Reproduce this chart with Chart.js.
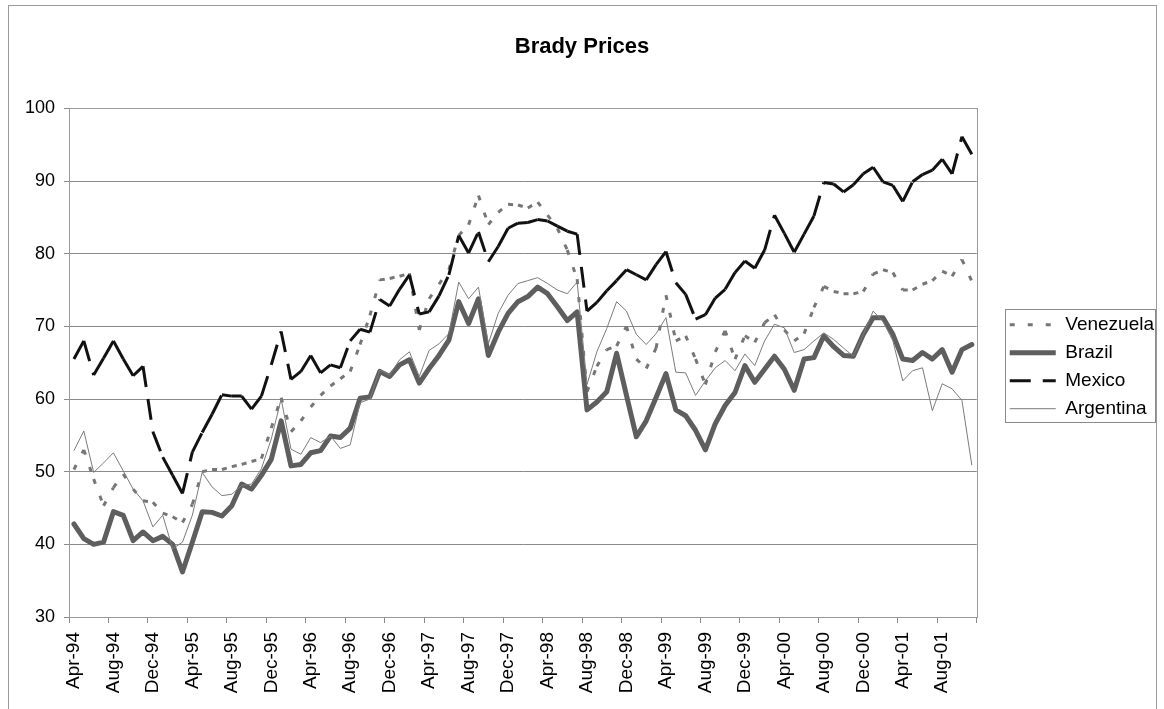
<!DOCTYPE html>
<html>
<head>
<meta charset="utf-8">
<script src="https://cdn.jsdelivr.net/npm/chart.js@4"></script>
<style>
  body { margin: 0; background: #fff; }
  #wrap { width: 1164px; height: 709px; }
</style>
</head>
<body>
<div id="wrap"><canvas id="bradyChart"></canvas></div>
<script>
// monthly categories, Apr-94 .. Nov-01
const months = [
  'Apr-94', 'May-94', 'Jun-94', 'Jul-94', 'Aug-94', 'Sep-94', 'Oct-94', 'Nov-94', 'Dec-94',
  'Jan-95', 'Feb-95', 'Mar-95', 'Apr-95', 'May-95', 'Jun-95', 'Jul-95', 'Aug-95', 'Sep-95', 'Oct-95', 'Nov-95', 'Dec-95',
  'Jan-96', 'Feb-96', 'Mar-96', 'Apr-96', 'May-96', 'Jun-96', 'Jul-96', 'Aug-96', 'Sep-96', 'Oct-96', 'Nov-96', 'Dec-96',
  'Jan-97', 'Feb-97', 'Mar-97', 'Apr-97', 'May-97', 'Jun-97', 'Jul-97', 'Aug-97', 'Sep-97', 'Oct-97', 'Nov-97', 'Dec-97',
  'Jan-98', 'Feb-98', 'Mar-98', 'Apr-98', 'May-98', 'Jun-98', 'Jul-98', 'Aug-98', 'Sep-98', 'Oct-98', 'Nov-98', 'Dec-98',
  'Jan-99', 'Feb-99', 'Mar-99', 'Apr-99', 'May-99', 'Jun-99', 'Jul-99', 'Aug-99', 'Sep-99', 'Oct-99', 'Nov-99', 'Dec-99',
  'Jan-00', 'Feb-00', 'Mar-00', 'Apr-00', 'May-00', 'Jun-00', 'Jul-00', 'Aug-00', 'Sep-00', 'Oct-00', 'Nov-00', 'Dec-00',
  'Jan-01', 'Feb-01', 'Mar-01', 'Apr-01', 'May-01', 'Jun-01', 'Jul-01', 'Aug-01', 'Sep-01', 'Oct-01', 'Nov-01'
];

// only every 4th month gets a label
const tickEvery = 4;

const venezuela = [
  50.3, 53.0, 49.0, 45.3, 47.8, 49.7, 47.6, 46.0, 45.8, 44.3, 43.8, 43.0,
  45.5, 50.0, 50.3, 50.3, 50.7, 51.0, 51.4, 51.8, 56.0, 60.2, 55.5, 57.0,
  58.9, 60.5, 61.8, 62.8, 63.8, 67.5, 71.5, 76.4, 76.6, 76.9, 77.3, 69.5,
  73.8, 75.8, 77.8, 82.5, 84.0, 88.0, 84.0, 85.7, 86.8, 86.7, 86.3, 87.1,
  85.3, 83.5, 80.5, 76.5, 61.0, 64.5, 66.8, 67.3, 70.0, 65.5, 64.2, 67.0,
  74.3, 68.0, 68.7, 65.5, 62.0, 66.5, 69.4, 65.5, 68.7, 67.8, 70.5, 71.6,
  69.5, 68.0, 69.0, 72.6, 75.5, 74.8, 74.5, 74.5, 74.8, 77.2, 77.8, 77.4,
  75.0, 75.0, 75.8, 76.3, 77.6, 76.9, 79.2, 76.2
];

const brazil = [
  42.8, 40.8, 40.0, 40.3, 44.5, 44.0, 40.5, 41.7, 40.5, 41.1, 40.0, 36.2,
  40.3, 44.5, 44.4, 43.9, 45.3, 48.3, 47.6, 49.5, 51.7, 57.0, 50.8, 51.0,
  52.6, 52.9, 54.9, 54.7, 56.0, 60.1, 60.3, 63.8, 63.1, 64.7, 65.4, 62.2,
  64.2, 66.0, 68.1, 73.4, 70.4, 73.8, 66.0, 69.2, 71.8, 73.4, 74.1, 75.4,
  74.5, 72.7, 70.8, 72.0, 58.5, 59.6, 61.0, 66.3, 60.5, 54.8, 57.0, 60.2,
  63.5, 58.5, 57.7, 55.7, 53.0, 56.6, 59.1, 60.9, 64.6, 62.3, 64.1, 65.9,
  64.1, 61.2, 65.5, 65.7, 68.7, 67.2, 66.0, 65.9, 68.9, 71.2, 71.2, 68.9,
  65.5, 65.3, 66.4, 65.5, 66.8, 63.7, 66.8, 67.5
];

const mexico = [
  65.5, 68.0, 63.3, 65.6, 68.0, 65.5, 63.2, 64.5, 55.5, 52.0, 49.5, 47.0,
  52.7, 55.4, 57.9, 60.6, 60.4, 60.4, 58.6, 60.4, 64.7, 69.3, 62.7, 63.8,
  66.0, 63.6, 64.7, 64.3, 68.0, 69.6, 69.2, 73.7, 72.8, 75.1, 77.1, 71.7,
  72.0, 74.2, 77.1, 82.5, 80.1, 83.0, 78.9, 81.0, 83.5, 84.2, 84.3, 84.7,
  84.5, 83.8, 83.1, 82.7, 72.1, 73.3, 74.9, 76.3, 77.8, 77.1, 76.4, 78.5,
  80.3, 76.0, 74.4, 71.0, 71.6, 73.9, 75.1, 77.4, 79.0, 78.0, 80.5, 85.3,
  82.8, 80.2, 82.7, 85.2, 89.8, 89.6, 88.5, 89.5, 91.0, 91.9, 89.9, 89.4,
  87.2, 89.9, 90.9, 91.5, 93.0, 91.0, 96.1, 93.7
];

const argentina = [
  52.9, 55.6, 49.9, 51.2, 52.6, 50.1, 47.6, 46.0, 42.4, 44.0, 39.4, 40.3,
  44.0, 49.9, 47.9, 46.7, 46.9, 48.1, 48.3, 50.4, 54.5, 60.0, 53.1, 52.4,
  54.7, 54.0, 54.9, 53.2, 53.7, 59.5, 60.0, 64.0, 63.3, 65.4, 66.5, 63.1,
  66.7, 67.6, 69.0, 76.1, 73.8, 75.4, 67.6, 71.8, 74.3, 75.9, 76.3, 76.7,
  75.9, 75.0, 74.5, 76.1, 62.0, 66.5, 69.7, 73.4, 72.1, 68.9, 67.5, 69.0,
  71.2, 63.7, 63.6, 60.5, 62.5, 64.3, 65.3, 63.9, 66.2, 64.6, 68.0, 70.3,
  69.8, 66.4, 66.8, 68.0, 69.1, 68.2, 67.0, 65.9, 68.9, 72.1, 70.7, 68.0,
  62.5, 63.9, 64.3, 58.4, 62.1, 61.4, 59.8, 50.9
];

const FONT = "'Liberation Sans', Arial, sans-serif";
Chart.defaults.font.family = FONT;
Chart.defaults.color = '#000';

// Excel restarts the dash pattern on every segment: make each segment its own style run
const restartDash = { borderDashOffset: c => (c.p0DataIndex % 2) * 0.001 };

// frame, plot border and legend box
const excelFrame = {
  id: 'excelFrame',
  afterLayout(chart) {
    chart.legend.top += 4;
    chart.legend.bottom += 4;
  },
  beforeDraw(chart) {
    const ctx = chart.ctx;
    ctx.save();
    ctx.fillStyle = '#fff';
    ctx.fillRect(0, 0, chart.width, chart.height);
    ctx.strokeStyle = '#9a9a9a';
    ctx.lineWidth = 1;
    ctx.strokeRect(8.5, 5.5, 1148, 760);
    ctx.restore();
  },
  beforeDatasetsDraw(chart) {
    const a = chart.chartArea;
    const ctx = chart.ctx;
    ctx.save();
    ctx.strokeStyle = '#9a9a9a';
    ctx.lineWidth = 1;
    ctx.strokeRect(Math.round(a.left) + 0.5, Math.round(a.top) + 0.5,
      Math.round(a.right - a.left), Math.round(a.bottom - a.top));
    ctx.restore();
  },
  afterDraw(chart) {
    const lg = chart.legend;
    const pad = lg.options.labels.padding;
    const colH = lg.columnSizes[0].height;
    const y0 = (lg.top + pad + lg.bottom - colH) / 2;
    const ctx = chart.ctx;
    ctx.save();
    ctx.strokeStyle = '#8a8a8a';
    ctx.lineWidth = 1;
    ctx.strokeRect(Math.round(lg.left) + 4.5, Math.round(y0) - 5.5,
      Math.round(lg.width) - 13, Math.round(colH - pad) + 10);
    ctx.restore();
  }
};

// legend samples take the dataset's line style (dash, width, colour)
const legendLines = chart =>
  Chart.defaults.plugins.legend.labels.generateLabels(chart).map(item => {
    const ds = chart.data.datasets[item.datasetIndex];
    item.lineDash = ds.borderDash || [];
    item.lineWidth = ds.borderWidth;
    item.strokeStyle = ds.borderColor;
    item.lineCap = 'butt';
    return item;
  });

new Chart(document.getElementById('bradyChart'), {
  type: 'line',
  data: {
    labels: months,
    datasets: [{
      label: 'Venezuela',
      data: venezuela,
      borderColor: '#767676',
      borderWidth: 3,
      borderDash: [5, 13],
      segment: restartDash,
      order: 3
    }, {
      label: 'Brazil',
      data: brazil,
      borderColor: '#5e5e5e',
      borderWidth: 5,
      borderJoinStyle: 'round',
      borderCapStyle: 'round',
      order: 2
    }, {
      label: 'Mexico',
      data: mexico,
      borderColor: '#111',
      borderWidth: 3,
      borderDash: [21, 12],
      segment: restartDash,
      order: 1
    }, {
      label: 'Argentina',
      data: argentina,
      borderColor: '#7c7c7c',
      borderWidth: 1,
      order: 0
    }]
  },
  options: {
    responsive: true,
    maintainAspectRatio: false,
    animation: false,
    elements: {
      point: { radius: 0, hoverRadius: 0 },
      line: { tension: 0, fill: false }
    },
    layout: { padding: 0 },
    plugins: {
      tooltip: { enabled: false },
      title: {
        display: true,
        text: 'Brady Prices',
        color: '#000',
        font: { size: 22, weight: 'bold' },
        padding: { top: 34, bottom: 48 }
      },
      legend: {
        position: 'right',
        fullSize: false,
        labels: {
          usePointStyle: true,
          pointStyle: 'line',
          pointStyleWidth: 46,
          padding: 9,
          color: '#000',
          font: { size: 19 },
          generateLabels: legendLines,
          sort: (a, b) => a.datasetIndex - b.datasetIndex
        }
      }
    },
    scales: {
      x: {
        offset: true,
        afterFit: s => { s.height = 92; },
        grid: {
          offset: true,
          drawOnChartArea: false,
          tickLength: 6,
          color: c => (c.index === undefined || c.index % tickEvery === 0) ? '#8a8a8a' : 'rgba(0,0,0,0)'
        },
        border: { display: true, color: '#8a8a8a' },
        ticks: {
          autoSkip: false,
          maxRotation: 90,
          minRotation: 90,
          padding: 9,
          font: { size: 19 },
          callback: (v, i) => i % tickEvery === 0 ? months[i] : ''
        }
      },
      y: {
        min: 30,
        max: 100,
        afterFit: s => { s.width = 69; },
        grid: { color: '#8a8a8a', tickLength: 5 },
        border: { display: true, color: '#8a8a8a' },
        ticks: { stepSize: 10, padding: 9, font: { size: 18 } }
      },
      y2: {
        position: 'right',
        afterFit: s => { s.width = 24; },
        grid: { display: false, drawTicks: false },
        border: { display: false },
        ticks: { display: false }
      }
    }
  },
  plugins: [excelFrame]
});
</script>
</body>
</html>
